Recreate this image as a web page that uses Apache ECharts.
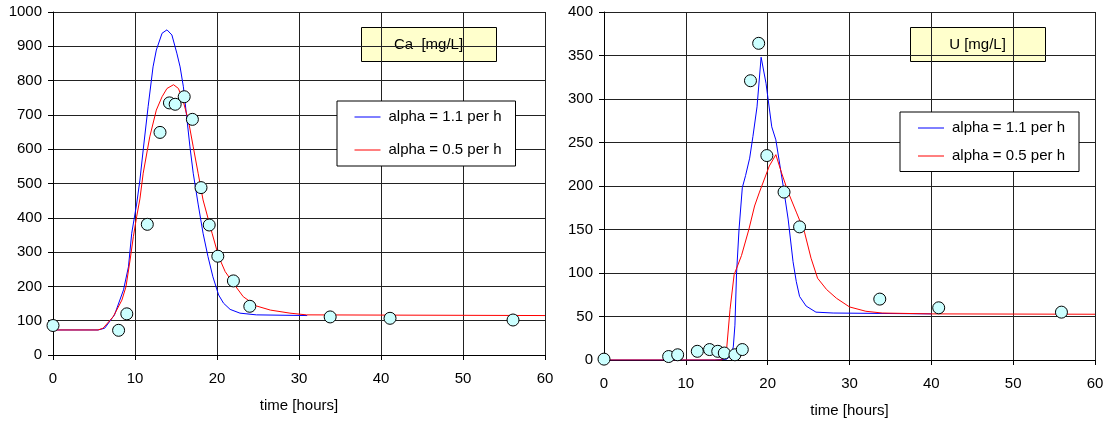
<!DOCTYPE html>
<html>
<head>
<meta charset="utf-8">
<script src="https://cdn.jsdelivr.net/npm/echarts@6/dist/echarts.min.js"></script>
<style>
  html, body { margin: 0; padding: 0; background: #fff; }
  #c1 { width: 1107px; height: 423px; }
</style>
</head>
<body>
<div id="c1"></div>
<script>
// Ca [mg/L] - measured points
var caTime = [0, 8, 9, 11.5, 13.05, 14.2, 14.9, 16.0, 17.0, 18.05, 19.05, 20.1, 22.0, 24.0, 33.8, 41.1, 56.1];
var caMeas = [86, 72, 120, 381, 649, 735, 731, 753, 687, 488, 379, 288, 216, 142, 111, 107, 102];

// Ca model curves
var caBlueT = [0, 5.5, 6.3, 7.5, 8.6, 9.2, 9.6, 10.2, 10.6, 11.0, 11.6, 12.2, 12.6, 13.3, 13.9, 14.5, 15.1, 15.5, 15.9, 16.3, 16.7, 17.1, 17.7, 18.3, 18.9, 19.5, 20.2, 20.8, 21.6, 22.8, 24.8, 31];
var caBlue = [73, 73, 78, 117, 190, 257, 355, 440, 510, 598, 724, 840, 889, 938, 948, 933, 880, 840, 782, 695, 607, 530, 440, 355, 287, 228, 175, 151, 133, 122, 117, 115];
var caRedT = [0, 5.5, 6.1, 7.35, 8.4, 8.9, 9.4, 9.8, 10.2, 10.6, 11.0, 11.8, 12.6, 13.3, 13.9, 14.7, 15.3, 15.9, 16.5, 17.1, 17.7, 18.3, 19.4, 20.2, 21.0, 22.0, 23.2, 24.8, 26.5, 28.9, 30.9, 60];
var caRed = [73, 73, 78, 112, 160, 199, 277, 345, 403, 455, 530, 636, 714, 753, 777, 788, 777, 738, 685, 607, 530, 452, 355, 287, 243, 209, 170, 143, 131, 122, 117, 115];

// U [mg/L] - measured points
var uTime = [0, 7.9, 9.0, 11.4, 12.9, 13.9, 14.7, 16.0, 16.9, 17.9, 18.9, 19.9, 22.0, 23.9, 33.7, 40.9, 55.9];
var uMeas = [1, 4, 6, 10, 12, 10, 8, 6, 12, 321, 364, 235, 193, 153, 70, 60, 55];

// U model curves
var uBlueT = [0, 13.5, 15.0, 15.5, 15.8, 16.0, 16.2, 16.5, 16.9, 17.3, 17.8, 18.2, 18.7, 19.2, 19.8, 20.5, 21.0, 21.9, 22.5, 23.1, 23.5, 23.9, 24.7, 25.9, 28, 40];
var uBlue = [0, 0, 1, 5, 15, 40, 100, 150, 198, 212, 232, 257, 291, 348, 318, 268, 253, 200, 162, 113, 90, 73, 62, 55, 54, 53];
var uRedT = [0, 14.4, 14.96, 15.4, 15.9, 16.8, 17.7, 18.4, 19.0, 19.6, 20.2, 21.0, 21.7, 22.5, 23.5, 24.5, 25.3, 26.1, 27.2, 28.4, 30, 32, 34, 40, 60];
var uRed = [0, 0, 10, 58, 98, 120, 150, 177, 193, 208, 223, 236, 215, 193, 170, 147, 117, 94, 81, 71, 61, 56, 54, 53, 52.6];

var xTicks = [0, 10, 20, 30, 40, 50, 60];
var nameBlue = "alpha = 1.1 per h";
var nameRed = "alpha = 0.5 per h";
var blue = "#0000FF";
var red = "#FF0000";

function pairs(xs, ys) {
  var out = [];
  for (var i = 0; i < xs.length; i++) out.push([xs[i], ys[i]]);
  return out;
}

var font = "Liberation Sans, Arial, sans-serif";

function xAxis(idx) {
  return {
    type: "value",
    gridIndex: idx,
    min: xTicks[0],
    max: xTicks[xTicks.length - 1],
    interval: 10,
    name: "time [hours]",
    nameLocation: "middle",
    nameGap: 43,
    nameTextStyle: { color: "#000", fontFamily: font, fontSize: 15 },
    axisLine: { onZero: false, lineStyle: { color: "#000", width: 1 } },
    axisTick: { show: true, length: 5, lineStyle: { color: "#000" } },
    axisLabel: { color: "#000", fontFamily: font, fontSize: 15, margin: 16 },
    splitLine: { show: true, lineStyle: { color: "#222", width: 1 } },
  };
}

function yAxis(idx, max, interval) {
  return {
    type: "value",
    gridIndex: idx,
    min: 0,
    max: max,
    interval: interval,
    axisLine: { show: true, onZero: false, lineStyle: { color: "#000", width: 1 } },
    axisTick: { show: true, length: 5, lineStyle: { color: "#000" } },
    axisLabel: {
      color: "#000",
      fontFamily: font,
      fontSize: 15,
      margin: 11,
      formatter: function (v) {
        return String(v);
      },
    },
    splitLine: { show: true, lineStyle: { color: "#222", width: 1 } },
  };
}

function legend(left, top, pad, gap) {
  return {
    data: [
      { name: nameBlue, lineStyle: { color: blue, width: 1 } },
      { name: nameRed, lineStyle: { color: red, width: 1 } },
    ],
    orient: "vertical",
    left: left,
    top: top,
    padding: pad,
    itemWidth: 26,
    itemHeight: 14,
    itemGap: gap,
    selectedMode: false,
    backgroundColor: "#fff",
    borderColor: "#000",
    borderWidth: 1,
    borderRadius: 0,
    itemStyle: { opacity: 0, borderWidth: 0 },
    textStyle: { color: "#000", fontFamily: font, fontSize: 15, padding: [0, 0, 0, 3] },
  };
}

function lineSeries(name, color, idx, data) {
  return {
    name: name,
    type: "line",
    xAxisIndex: idx,
    yAxisIndex: idx,
    data: data,
    symbol: "none",
    smooth: false,
    silent: true,
    lineStyle: { color: color, width: 1 },
    itemStyle: { color: color },
    z: 3,
  };
}

function pointSeries(idx, data) {
  return {
    name: "measured",
    type: "scatter",
    xAxisIndex: idx,
    yAxisIndex: idx,
    data: data,
    symbol: "circle",
    symbolSize: 12,
    itemStyle: { color: "#CCFFFF", borderColor: "#000", borderWidth: 1, opacity: 1 },
    z: 5,
  };
}

function labelBox(x, y, w, h, text) {
  return {
    type: "group",
    z: 100,
    children: [
      {
        type: "rect",
        shape: { x: x + 0.5, y: y + 0.5, width: w, height: h },
        style: { fill: "#FFFFCC", stroke: "#000", lineWidth: 1 },
      },
      {
        type: "text",
        x: x + w / 2,
        y: y + h / 2 + 1,
        style: {
          text: text,
          fill: "#000",
          font: "15px " + font,
          textAlign: "center",
          textVerticalAlign: "middle",
        },
      },
    ],
  };
}

var chartDom = document.getElementById("c1");
var myChart = echarts.init(chartDom, null, { renderer: "canvas" });
var option;

option = {
  animation: false,
  backgroundColor: "#fff",
  grid: [
    { left: 53, top: 12, width: 492, height: 343, containLabel: false },
    { left: 604, top: 12, width: 491, height: 350.5, containLabel: false },
  ],
  xAxis: [xAxis(0), xAxis(1)],
  yAxis: [yAxis(0, 1000, 100), yAxis(1, 400, 50)],
  legend: [
    legend(337, 101, [8.5, 14, 8.5, 17], 18),
    legend(900, 112, [8.5, 14, 8, 17.5], 13),
  ],
  graphic: [
    labelBox(361, 27, 135, 34, "Ca  [mg/L]"),
    labelBox(910, 27, 135, 34, "U [mg/L]"),
  ],
  series: [
    lineSeries(nameBlue, blue, 0, pairs(caBlueT, caBlue)),
    lineSeries(nameRed, red, 0, pairs(caRedT, caRed)),
    pointSeries(0, pairs(caTime, caMeas)),
    lineSeries(nameBlue, blue, 1, pairs(uBlueT, uBlue)),
    lineSeries(nameRed, red, 1, pairs(uRedT, uRed)),
    pointSeries(1, pairs(uTime, uMeas)),
  ],
};

myChart.setOption(option);
window.addEventListener("resize", function () {
  myChart.resize();
});
</script>
</body>
</html>
